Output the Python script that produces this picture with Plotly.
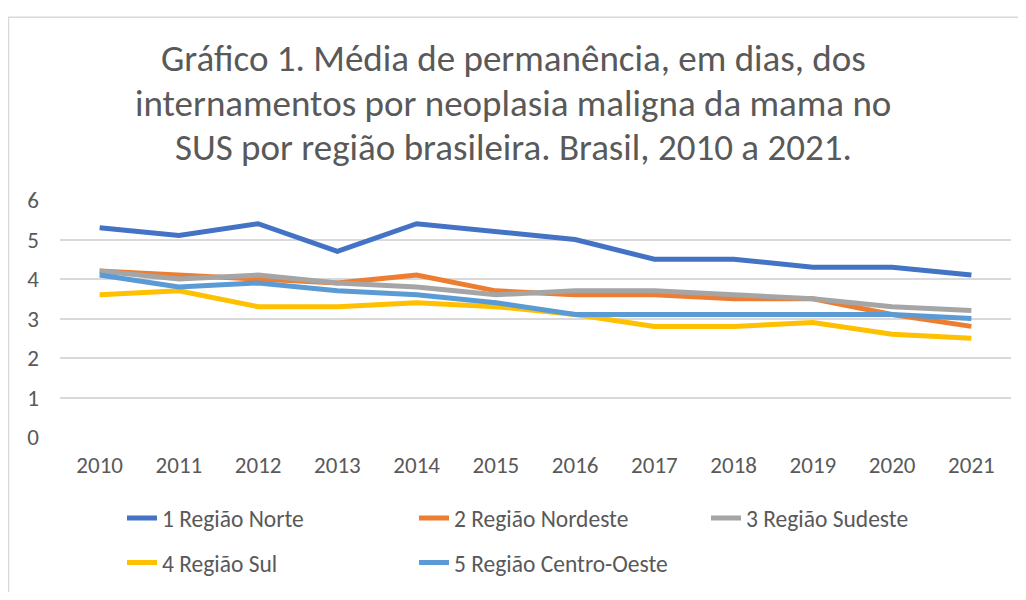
import plotly.graph_objects as go

years = [str(y) for y in range(2010, 2022)]
norte = [5.3, 5.1, 5.4, 4.7, 5.4, 5.2, 5.0, 4.5, 4.5, 4.3, 4.3, 4.1]
nordeste = [4.2, 4.1, 4.0, 3.9, 4.1, 3.7, 3.6, 3.6, 3.5, 3.5, 3.1, 2.8]
sudeste = [4.2, 4.0, 4.1, 3.9, 3.8, 3.6, 3.7, 3.7, 3.6, 3.5, 3.3, 3.2]
sul = [3.6, 3.7, 3.3, 3.3, 3.4, 3.3, 3.1, 2.8, 2.8, 2.9, 2.6, 2.5]
centro_oeste = [4.1, 3.8, 3.9, 3.7, 3.6, 3.4, 3.1, 3.1, 3.1, 3.1, 3.1, 3.0]

series_names = ["1 Região Norte", "2 Região Nordeste", "3 Região Sudeste",
                "4 Região Sul", "5 Região Centro-Oeste"]
series_values = [norte, nordeste, sudeste, sul, centro_oeste]
colors = ["#4472C4", "#ED7D31", "#A5A5A5", "#FFC000", "#5B9BD5"]
legend_ids = ["legend", "legend", "legend", "legend2", "legend2"]

title_lines = ["Gráfico 1. Média de permanência, em dias, dos",
               "internamentos por neoplasia maligna da mama no",
               "SUS por região brasileira. Brasil, 2010 a 2021."]

FONT = "Carlito, Calibri, 'Open Sans', sans-serif"
TXT = "#595959"

OFF = 8  # default page body margin
W, H = 1026 - 2 * OFF, 600 - 2 * OFF
L, T = 60 - OFF, 200 - OFF
B = H - (445 - OFF)
R = W - (1011 - OFF)
pw = W - L - R
ph = H - T - B


def px_x(p):
    return (p - OFF - L) / pw


def px_y(p):
    return (H - B - (p - OFF)) / ph


fig = go.Figure()
for name, vals, c, lg in zip(series_names, series_values, colors, legend_ids):
    fig.add_trace(go.Scatter(x=years, y=vals, mode="lines", name=name,
                             line=dict(color=c, width=5), legend=lg))

annotations = []
for line, yp in zip(title_lines, [54, 100, 146]):
    annotations.append(dict(text=line, x=px_x(513), y=px_y(yp), xref="paper", yref="paper",
                            showarrow=False, xanchor="center", yanchor="middle",
                            font=dict(family=FONT, size=37, color=TXT)))

leg_common = dict(orientation="h", xanchor="left", yanchor="middle",
                  entrywidth=247, entrywidthmode="pixels",
                  font=dict(family=FONT, size=23.5, color=TXT), traceorder="normal")

shapes = [dict(type="rect", xref="paper", yref="paper",
               x0=px_x(8.5), x1=px_x(1040), y0=px_y(620), y1=px_y(11),
               line=dict(color="#D9D9D9", width=1.5), fillcolor="rgba(0,0,0,0)", layer="below")]

fig.update_layout(
    width=W, height=H,
    margin=dict(l=L, r=R, t=T, b=B),
    paper_bgcolor="white", plot_bgcolor="white",
    font=dict(family=FONT, size=23, color=TXT),
    annotations=annotations,
    showlegend=True,
    legend=dict(x=px_x(122), y=px_y(529), **leg_common),
    legend2=dict(x=px_x(122), y=px_y(575), **leg_common),
    xaxis=dict(type="category", range=[-0.5, 11.5], showgrid=False, zeroline=False,
               showline=False, ticks="", tickfont=dict(size=23, color=TXT),
               ticklabelstandoff=12),
    yaxis=dict(range=[0, 6], dtick=1, showgrid=True, gridcolor="#D9D9D9", gridwidth=1.5,
               zeroline=False, showline=False, ticks="", tickfont=dict(size=23, color=TXT),
               ticklabelstandoff=20),
    shapes=shapes,
)

fig.write_html("out.html")
